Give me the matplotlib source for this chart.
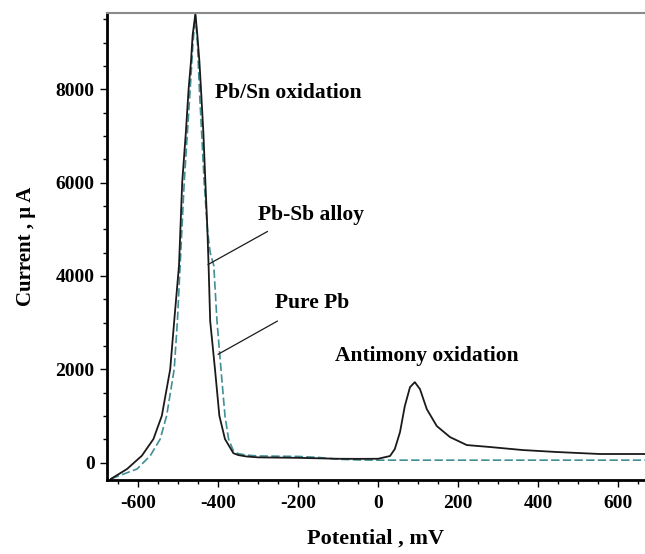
import numpy as np
import matplotlib
matplotlib.use("Agg")
from matplotlib import pyplot as plt
from matplotlib.ticker import MultipleLocator

plt.rcParams["font.family"] = ["Liberation Serif", "DejaVu Serif"]
plt.rcParams["font.weight"] = "bold"
plt.rcParams["axes.unicode_minus"] = False

# Pb-Sb alloy (solid) - potential mV, current uA
alloy_x = [-668, -628, -591, -562, -541, -520, -510, -498, -490, -481, -474, -468, -464,
           -457, -452, -447, -443, -437, -432, -427, -424, -420, -408, -397, -383, -362,
           -350, -330, -300, -250, -200, -150, -100, -50, 0, 30, 42, 55, 67, 80, 92,
           105, 122, 147, 180, 222, 280, 362, 447, 555, 670]
alloy_y = [-350, -139, 145, 503, 1001, 2000, 3033, 4224, 6006, 7062, 8000, 8600, 9150,
           9620, 9150, 8600, 8000, 7062, 6006, 4995, 4224, 3033, 2000, 1001, 503, 200,
           160, 130, 110, 105, 100, 90, 80, 78, 80, 139, 289, 652, 1209, 1615, 1722,
           1572, 1144, 781, 545, 374, 332, 267, 225, 182, 182]

# Pure Pb (dashed)
pure_x = [-668, -653, -603, -570, -545, -529, -510, -502, -485, -470, -463,
          -457, -452, -447, -435, -427, -420, -411, -403, -393, -383, -374, -362,
          -350, -330, -300, -250, -200, -150, -100, -50, 0, 200, 400, 670]
pure_y = [-350, -300, -139, 145, 503, 1001, 2000, 3033, 6006, 8000, 9000,
          9580, 9000, 8000, 6006, 4995, 4500, 4224, 3033, 2000, 1001, 503, 250,
          190, 160, 140, 135, 130, 110, 70, 55, 50, 50, 50, 50]

x_ticks = [-600, -400, -200, 0, 200, 400, 600]
y_ticks = [0, 2000, 4000, 6000, 8000]

fig = plt.figure(figsize=(6.45, 5.54), dpi=100)
ax = fig.add_axes([0.166, 0.134, 0.834, 0.843])

ax.plot(pure_x, pure_y, color="#3f8f94", lw=1.2, ls=(0, (5, 2)))
ax.plot(alloy_x, alloy_y, color="#1a1a1a", lw=1.3)

ax.set_xlim(-678, 668)
ax.set_ylim(-370, 9640)
ax.set_xticks(x_ticks)
ax.set_yticks(y_ticks)
ax.xaxis.set_minor_locator(MultipleLocator(50))
ax.yaxis.set_minor_locator(MultipleLocator(500))
ax.tick_params(which="both", direction="out", labelsize=14, width=1)
ax.tick_params(which="major", length=5)
ax.tick_params(which="minor", length=3)
ax.tick_params(axis="x", pad=6)
ax.tick_params(axis="y", pad=4)
for lab in ax.get_xticklabels() + ax.get_yticklabels():
    lab.set_fontweight("bold")

ax.spines["right"].set_visible(False)
ax.spines["top"].set_color("#8a8a8a")
ax.spines["top"].set_linewidth(1.5)
ax.spines["left"].set_linewidth(2)
ax.spines["bottom"].set_linewidth(2)

ax.set_xlabel("Potential , mV", fontsize=16, fontweight="bold", labelpad=12)
ax.set_ylabel("Current , μ A", fontsize=15, fontweight="bold", labelpad=14)

fs = 15.5
ax.text(-407, 7920, "Pb/Sn oxidation", fontsize=fs, fontweight="bold", va="center")
ax.text(-300, 5300, "Pb-Sb alloy", fontsize=fs, fontweight="bold", va="center")
ax.text(-258, 3420, "Pure Pb", fontsize=fs, fontweight="bold", va="center")
ax.text(-108, 2290, "Antimony oxidation", fontsize=fs, fontweight="bold", va="center")

ax.plot([-425, -277], [4245, 4950], color="#1a1a1a", lw=0.9)
ax.plot([-400, -252], [2320, 3030], color="#1a1a1a", lw=0.9)

fig.savefig("out.png", dpi=100)
